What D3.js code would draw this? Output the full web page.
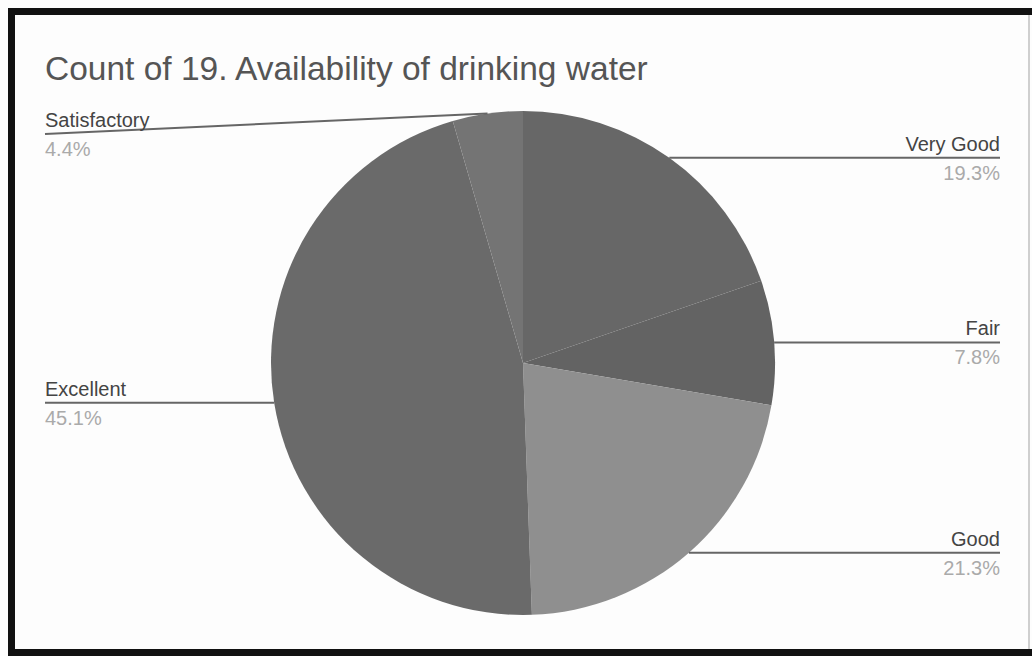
<!DOCTYPE html>
<html>
<head>
<meta charset="utf-8">
<script src="https://cdn.jsdelivr.net/npm/d3@7/dist/d3.min.js"></script>
<style>
  html, body { margin: 0; padding: 0; background: #fff; }
  svg { display: block; }
</style>
</head>
<body>
<script>
// ---- data ----
const title = "Count of 19. Availability of drinking water";
const categories = ["Very Good", "Fair", "Good", "Excellent", "Satisfactory"];
const values = [19.3, 7.8, 21.3, 45.1, 4.4];
const percentLabels = ["19.3%", "7.8%", "21.3%", "45.1%", "4.4%"];
const sliceColors = ["#676767", "#636363", "#8f8f8f", "#6a6a6a", "#747474"];

// ---- layout ----
const W = 1032, H = 656;
const cx = 523, cy = 363, R = 252;
const leftX = 45, rightX = 1000;

const svg = d3.select("body").append("svg").attr("width", W).attr("height", H);

svg.append("rect").attr("width", W).attr("height", H).attr("fill", "#fdfdfd");

// frame
svg.append("rect").attr("x", 8).attr("y", 8).attr("width", W - 8).attr("height", 7).attr("fill", "#111");
svg.append("rect").attr("x", 8).attr("y", 8).attr("width", 7).attr("height", H - 8).attr("fill", "#111");
svg.append("rect").attr("x", 8).attr("y", 649).attr("width", W - 8).attr("height", 7).attr("fill", "#111");
svg.append("rect").attr("x", 1028).attr("y", 15).attr("width", 2).attr("height", 634).attr("fill", "#cfcfcf");

// title
svg.append("text")
  .attr("x", 45).attr("y", 80)
  .attr("font-family", "Liberation Sans, Arial, sans-serif")
  .attr("font-size", 33.5)
  .attr("fill", "#555")
  .text(title);

const data = categories.map((c, i) => ({ name: c, value: values[i], pct: percentLabels[i], color: sliceColors[i] }));

const pie = d3.pie().value(d => d.value).sort(null);
const arcs = pie(data);
const arc = d3.arc().innerRadius(0).outerRadius(R);

const g = svg.append("g").attr("transform", `translate(${cx},${cy})`);
g.selectAll("path.slice").data(arcs).join("path")
  .attr("class", "slice")
  .attr("d", arc)
  .attr("fill", d => d.data.color);

// labels with leader lines
const font = "Liberation Sans, Arial, sans-serif";
arcs.forEach(a => {
  const mid = (a.startAngle + a.endAngle) / 2;
  const px = cx + R * Math.sin(mid);
  const py = cy - R * Math.cos(mid);
  const right = Math.sin(mid) >= 0;
  const L = Math.max(py, 134);
  const x0 = right ? rightX : leftX;
  const anchor = right ? "end" : "start";
  svg.append("polyline")
    .attr("points", right ? `${px},${py} ${x0},${L}` : `${x0},${L} ${px},${py}`)
    .attr("fill", "none")
    .attr("stroke", "#666")
    .attr("stroke-width", 2);
  svg.append("text")
    .attr("x", x0).attr("y", L - 7)
    .attr("text-anchor", anchor)
    .attr("font-family", font).attr("font-size", 20)
    .attr("fill", "#444")
    .text(a.data.name);
  svg.append("text")
    .attr("x", x0).attr("y", L + 22)
    .attr("text-anchor", anchor)
    .attr("font-family", font).attr("font-size", 20)
    .attr("fill", "#aaa")
    .text(a.data.pct);
});
</script>
</body>
</html>
